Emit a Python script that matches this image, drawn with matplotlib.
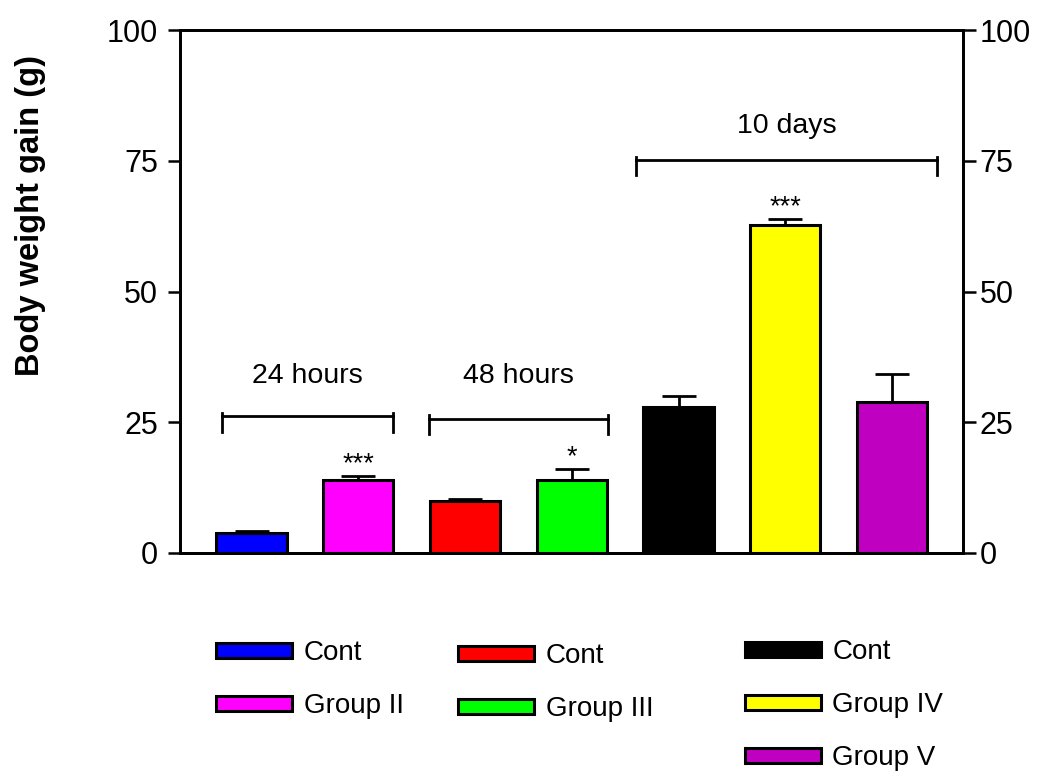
import numpy as np
import matplotlib
matplotlib.use('Agg')
import matplotlib.pyplot as plt

plt.rcParams['font.family'] = ['Liberation Sans', 'DejaVu Sans']

# bar data (g)
labels = ['Cont', 'Group II', 'Cont', 'Group III', 'Cont', 'Group IV', 'Group V']
means = [3.9, 14.0, 9.9, 14.0, 28.0, 62.8, 28.9]
errs = [0.3, 0.7, 0.4, 2.0, 2.1, 1.0, 5.3]
colors = ['#0000ff', '#ff00ff', '#ff0000', '#00ff00', '#000000', '#ffff00', '#c000c0']

# group brackets: (start, end, bar y, label y, label)
brackets = [(-0.28, 1.33, 26.1, 33.8, '24 hours'),
            (1.665, 3.337, 25.6, 33.8, '48 hours'),
            (3.6, 6.42, 75.1, 81.6, '10 days')]
stars = {1: '***', 3: '*', 5: '***'}

fig = plt.figure(figsize=(10.41, 7.76), dpi=100)
ax = fig.add_axes([180 / 1041, 1 - 553 / 776, 783 / 1041, 523 / 776])

x = np.arange(len(means))
bars = ax.bar(x, means, width=0.66, color=colors, edgecolor='black', linewidth=2.2)
ax.errorbar(x, means, yerr=[np.zeros(len(errs)), errs], fmt='none',
            ecolor='black', elinewidth=2, capsize=12, capthick=2)

for x0, x1, yb, yl, txt in brackets:
    ax.plot([x0, x1], [yb, yb], color='black', lw=2)
    ax.plot([x0, x0], [yb - 2.9, yb + 0.7], color='black', lw=2)
    ax.plot([x1, x1], [yb - 2.9, yb + 0.7], color='black', lw=2)
    ax.text((x0 + x1) / 2, yl, txt, ha='center', va='center', fontsize=20.5)

for i, s in stars.items():
    ax.text(i, means[i] + errs[i] + 1.0, s, ha='center', va='baseline', fontsize=19.5)

ax.set_xlim(-0.67, 6.665)
ax.set_ylim(0, 100)
ax.set_yticks([0, 25, 50, 75, 100])
ax.set_xticks([])
for sp in ax.spines.values():
    sp.set_linewidth(2)
ax.tick_params(axis='y', direction='out', length=9, width=1.8,
               labelsize=22, pad=7)

ax2 = ax.twinx()
ax2.set_ylim(0, 100)
ax2.set_yticks([0, 25, 50, 75, 100])
for sp in ax2.spines.values():
    sp.set_linewidth(2)
ax2.tick_params(axis='y', direction='out', length=9, width=1.8,
                labelsize=22, pad=3)

fig.text(0.029, 1 - 215 / 776, 'Body weight gain (g)', rotation=90, ha='center',
         va='center', fontsize=23.5, fontweight='bold')

# legends, one per time group
groups = [([0, 1], 216, 640), ([2, 3], 458, 643), ([4, 5, 6], 745, 639)]
for idx, px, py in groups:
    fig.legend([bars[i] for i in idx], [labels[i] for i in idx],
               loc='upper left', bbox_to_anchor=(px / 1041, 1 - py / 776),
               frameon=False, borderpad=0, borderaxespad=0, fontsize=20,
               handlelength=2.75, handleheight=0.45, handletextpad=0.4,
               labelspacing=0.98)

fig.savefig('out.png', dpi=100)
